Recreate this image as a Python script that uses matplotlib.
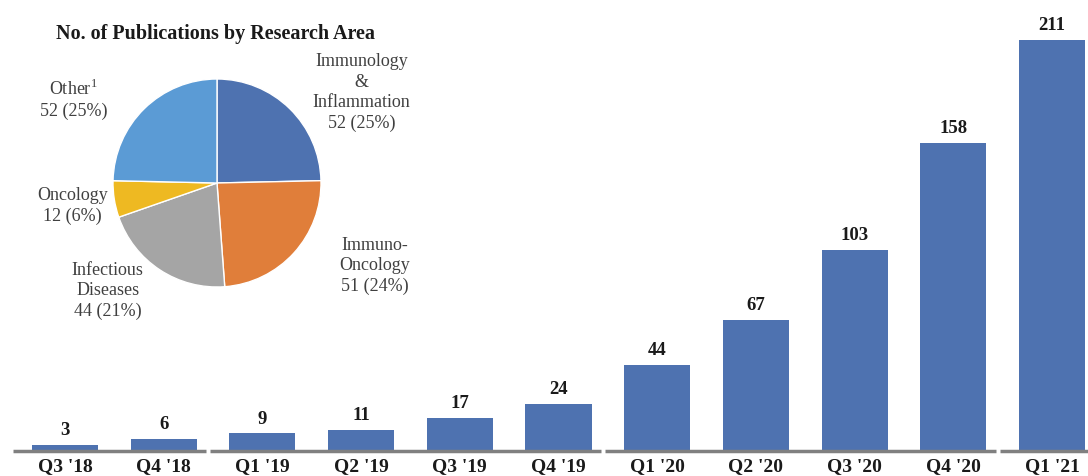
import matplotlib.pyplot as plt

plt.rcParams['font.family'] = ['Liberation Serif', 'DejaVu Serif']

# quarterly publications
quarters = ["Q3 '18", "Q4 '18", "Q1 '19", "Q2 '19", "Q3 '19", "Q4 '19",
            "Q1 '20", "Q2 '20", "Q3 '20", "Q4 '20", "Q1 '21"]
counts = [3, 6, 9, 11, 17, 24, 44, 67, 103, 158, 211]
year_groups = [[0, 1], [2, 3, 4, 5], [6, 7, 8, 9], [10]]

# research area split
areas = ["Immunology\n&\nInflammation", "Immuno-\nOncology",
         "Infectious\nDiseases", "Oncology", "Other$^{\\mathregular{1}}$"]
area_counts = [52, 51, 44, 12, 52]
area_pcts = [25, 24, 21, 6, 25]
area_colors = ['#4E72B0', '#E07E3A', '#A5A5A5', '#EEB922', '#5B9BD5']

fig = plt.figure(figsize=(10.88, 4.77), dpi=100)

# ---- bar chart ----
ax = fig.add_axes([0, 25 / 477, 1, 452 / 477])
x = list(range(len(quarters)))
bars = ax.bar(x, counts, width=0.67, color='#4E72B0')
for b, v in zip(bars, counts):
    ax.annotate(str(v), (b.get_x() + b.get_width() / 2, v), xytext=(0, 5),
                textcoords='offset points', ha='center', va='bottom',
                fontsize=13.5, fontweight='bold', color='#1a1a1a')

ax.set_xlim(-0.659, 10.365)
ax.set_ylim(0, 231.8)
ax.set_xticks(x)
ax.set_xticklabels(quarters, fontsize=14, fontweight='bold', color='#1a1a1a')
ax.tick_params(axis='x', length=0, pad=4)
ax.set_yticks([])
for s in ax.spines.values():
    s.set_visible(False)

# grey baseline broken by year
for g in year_groups:
    ax.hlines(0, g[0] - 0.53, g[-1] + 0.43, color='#808080', linewidth=2.5,
              clip_on=False)

# ---- pie inset ----
r = 104
pax = fig.add_axes([(217 - r) / 1088, (477 - 184 - r) / 477, 2 * r / 1088, 2 * r / 477])
pax.pie(area_counts, colors=area_colors, startangle=90, counterclock=False,
        wedgeprops=dict(edgecolor='white', linewidth=1))
pax.set_xlim(-1, 1)
pax.set_ylim(-1, 1)

label_pos = [(1.39, 0.88), (1.52, -0.79), (-1.05, -1.03), (-1.39, -0.21), (-1.38, 0.81)]
for name, n, p, (lx, ly) in zip(areas, area_counts, area_pcts, label_pos):
    pax.text(lx, ly, f"{name}\n{n} ({p}%)", ha='center', va='center',
             fontsize=13, color='#404040', linespacing=1.25, clip_on=False)

fig.text(215 / 1088, 1 - 34 / 477, "No. of Publications by Research Area",
         ha='center', va='center', fontsize=14.5, fontweight='bold', color='#1a1a1a')

fig.savefig('out.png', dpi=100)
